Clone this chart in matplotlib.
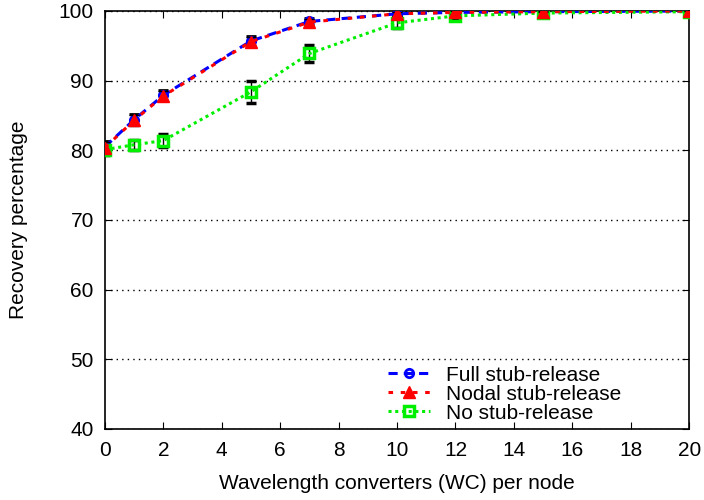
import numpy as np
import matplotlib as mpl
import matplotlib.pyplot as plt
from matplotlib.lines import Line2D

mpl.rcParams['font.family'] = 'Liberation Sans'
mpl.rcParams['font.size'] = 15.0

wc = [0, 1, 2, 5, 7, 10, 12, 15, 20]

full = [80.5, 84.4, 87.9, 95.7, 98.5, 99.6, 99.8, 99.9, 100.0]
full_err = [0.8, 0.8, 0.7, 0.7, 0.5, 0.3, 0.2, 0.1, 0.05]

nodal = [80.4, 84.3, 87.8, 95.6, 98.4, 99.6, 99.8, 99.9, 100.0]
nodal_err = [0.8, 0.8, 0.7, 0.7, 0.5, 0.3, 0.2, 0.1, 0.05]

nosr = [80.1, 80.8, 81.4, 88.4, 93.9, 98.3, 99.3, 99.7, 99.9]
nosr_err = [0.8, 0.7, 0.9, 1.6, 1.2, 0.8, 0.5, 0.3, 0.1]

labels = ["Full stub-release", "Nodal stub-release", "No stub-release"]

fig = plt.figure(figsize=(7.04, 5.0), dpi=100)
ax = fig.add_axes([0.149, 0.142, 0.830, 0.836])

green = "#00ee00"
st_full = dict(color="blue", ls=(0, (3, 2)), lw=2.2, marker="o", ms=6,
               mfc="none", mec="blue", mew=2)
st_nodal = dict(color="red", ls=(0, (1.5, 2.5)), lw=2.2, marker="^", ms=8,
                mfc="red", mec="red")
st_no = dict(color=green, ls=(0, (1, 1.2)), lw=2.2, marker="s", ms=7,
             mfc="none", mec=green, mew=2.5)
eb = dict(ecolor="black", elinewidth=1.0, capsize=3.5, capthick=1.0)

ax.errorbar(wc, full, yerr=full_err, zorder=3, **st_full, **eb)
ax.errorbar(wc, nodal, yerr=nodal_err, zorder=4, **st_nodal, **eb)
ax.errorbar(wc, nosr, yerr=nosr_err, zorder=3, **st_no, **eb)

ax.set_xlim(0, 20)
ax.set_ylim(40, 100)
ax.set_xticks(np.arange(0, 21, 2))
ax.set_yticks(np.arange(40, 101, 10))
ax.yaxis.grid(True, ls=(0, (1, 3)), color="black", lw=1)
ax.tick_params(direction="in", top=True, right=True, length=5)
ax.tick_params(axis="x", pad=9)
ax.tick_params(axis="y", pad=8)
for s in ax.spines.values():
    s.set_linewidth(1.2)

ax.set_xlabel("Wavelength converters (WC) per node", labelpad=10)
ax.set_ylabel("Recovery percentage", labelpad=22)

handles = [Line2D([], [], **st_full), Line2D([], [], **st_nodal), Line2D([], [], **st_no)]
ax.legend(handles, labels, loc="lower right", frameon=False, handlelength=2.0,
          borderpad=0, borderaxespad=0, labelspacing=0.0, handletextpad=0.8,
          bbox_to_anchor=(0.884, 0.015))

fig.savefig("out.png", dpi=100)
